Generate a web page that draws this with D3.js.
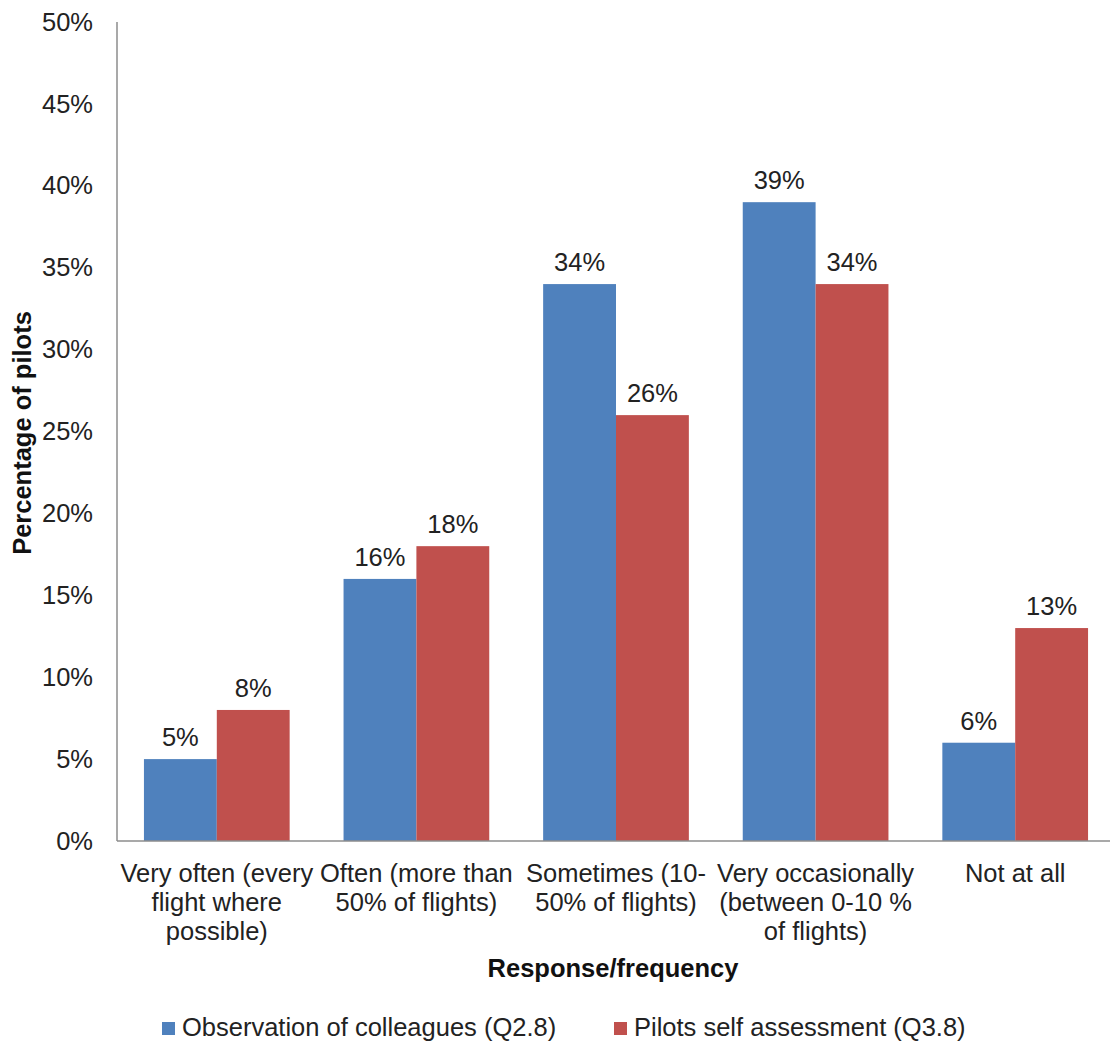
<!DOCTYPE html>
<html>
<head>
<meta charset="utf-8">
<script src="https://cdn.jsdelivr.net/npm/d3@7/dist/d3.min.js"></script>
<style>
  html, body { margin: 0; padding: 0; background: #ffffff; }
  svg { display: block; font-family: "Liberation Sans", Arial, sans-serif; }
</style>
</head>
<body>
<svg id="chart" width="1110" height="1043"></svg>
<script>
// Response categories (line breaks mark how each axis label wraps)
const categories = [
  "Very often (every\nflight where\npossible)",
  "Often (more than\n50% of flights)",
  "Sometimes (10-\n50% of flights)",
  "Very occasionally\n(between 0-10 %\nof flights)",
  "Not at all"
];
const seriesNames = ["Observation of colleagues (Q2.8)", "Pilots self assessment (Q3.8)"];
const observationValues = [5, 16, 34, 39, 6];
const selfAssessmentValues = [8, 18, 26, 34, 13];
const yTicks = [0, 5, 10, 15, 20, 25, 30, 35, 40, 45, 50];
const colors = ["#4F81BD", "#C0504D"];

const FONT = 25.5;
const svg = d3.select("#chart");
const plot = { left: 117, right: 1115, top: 22, bottom: 841 };

const x0 = d3.scaleBand()
  .domain(categories)
  .range([plot.left, plot.right])
  .paddingInner(0.27)
  .paddingOuter(0.135);

const x1 = d3.scaleBand()
  .domain(seriesNames)
  .range([0, x0.bandwidth()])
  .padding(0);

const y = d3.scaleLinear().domain([0, 50]).range([plot.bottom, plot.top]);

const color = d3.scaleOrdinal().domain(seriesNames).range(colors);

const rows = categories.map((c, i) => ({
  category: c,
  values: [
    { series: seriesNames[0], value: observationValues[i] },
    { series: seriesNames[1], value: selfAssessmentValues[i] }
  ]
}));

// Y axis: labels only, plus the vertical axis line
const yAxis = d3.axisLeft(y)
  .tickValues(yTicks)
  .tickFormat(d => d + "%")
  .tickSize(0)
  .tickPadding(24);

const gy = svg.append("g")
  .attr("transform", `translate(${plot.left},0)`)
  .call(yAxis);
gy.select(".domain").remove();
gy.selectAll("text")
  .attr("font-size", FONT)
  .attr("fill", "#222")
  .attr("font-family", "Liberation Sans, Arial, sans-serif");

// Bars
const groups = svg.append("g")
  .selectAll("g")
  .data(rows)
  .join("g")
  .attr("transform", d => `translate(${x0(d.category)},0)`);

groups.selectAll("rect")
  .data(d => d.values)
  .join("rect")
  .attr("x", d => x1(d.series))
  .attr("y", d => y(d.value))
  .attr("width", x1.bandwidth())
  .attr("height", d => y(0) - y(d.value))
  .attr("fill", d => color(d.series));

// Value labels above each bar
groups.selectAll("text.value")
  .data(d => d.values)
  .join("text")
  .attr("class", "value")
  .attr("x", d => x1(d.series) + x1.bandwidth() / 2)
  .attr("y", d => y(d.value) - 13)
  .attr("text-anchor", "middle")
  .attr("font-size", FONT)
  .attr("fill", "#222")
  .text(d => d.value + "%");

// Axis lines
svg.append("line")
  .attr("x1", plot.left).attr("x2", plot.left)
  .attr("y1", plot.top).attr("y2", plot.bottom)
  .attr("stroke", "#8c8c8c").attr("stroke-width", 1.5);
svg.append("line")
  .attr("x1", plot.left).attr("x2", plot.right)
  .attr("y1", plot.bottom).attr("y2", plot.bottom)
  .attr("stroke", "#8c8c8c").attr("stroke-width", 1.5);

// Category labels (multi-line)
const catLabels = svg.append("g")
  .selectAll("text")
  .data(categories)
  .join("text")
  .attr("x", d => x0(d) + x0.bandwidth() / 2)
  .attr("y", 882)
  .attr("text-anchor", "middle")
  .attr("font-size", FONT)
  .attr("fill", "#222");
catLabels.selectAll("tspan")
  .data(d => d.split("\n"))
  .join("tspan")
  .attr("x", function () { return d3.select(this.parentNode).attr("x"); })
  .attr("dy", (d, i) => i === 0 ? 0 : 29)
  .text(d => d);

// Axis titles
svg.append("text")
  .attr("x", 613)
  .attr("y", 977)
  .attr("text-anchor", "middle")
  .attr("font-size", FONT)
  .attr("font-weight", "bold")
  .attr("fill", "#111")
  .text("Response/frequency");

svg.append("text")
  .attr("transform", `translate(31,433) rotate(-90)`)
  .attr("text-anchor", "middle")
  .attr("font-size", FONT)
  .attr("font-weight", "bold")
  .attr("fill", "#111")
  .text("Percentage of pilots");

// Legend
const legendX = [162, 614];
const legend = svg.append("g")
  .selectAll("g")
  .data(seriesNames)
  .join("g")
  .attr("transform", (d, i) => `translate(${legendX[i]},1022)`);
legend.append("rect")
  .attr("width", 13).attr("height", 13)
  .attr("fill", d => color(d));
legend.append("text")
  .attr("x", 20)
  .attr("y", 14)
  .attr("font-size", FONT)
  .attr("fill", "#222")
  .text(d => d);
</script>
</body>
</html>
